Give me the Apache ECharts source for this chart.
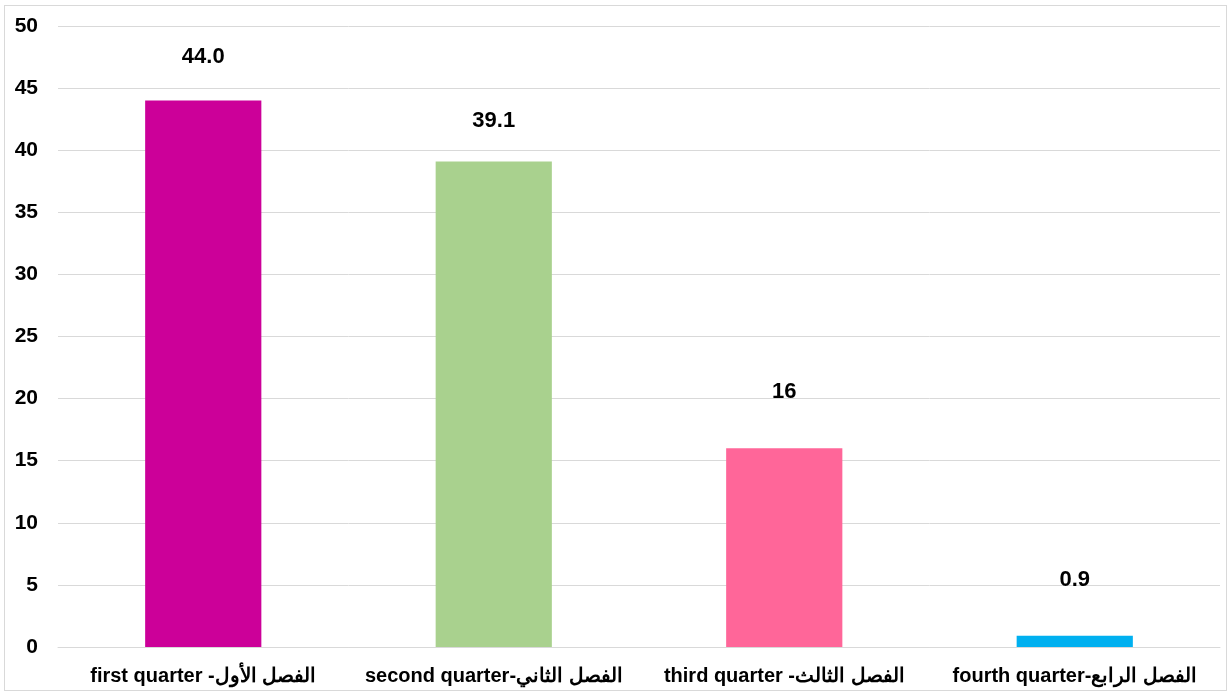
<!DOCTYPE html>
<html>
<head>
<meta charset="utf-8">
<script src="https://cdn.jsdelivr.net/npm/echarts@6/dist/echarts.min.js"></script>
<style>
  html, body { margin: 0; padding: 0; background: #fff; }
  #frame { position: absolute; left: 4px; top: 5px; width: 1223px; height: 686px; border: 1px solid #d9d9d9; box-sizing: border-box; }
  #chart { position: absolute; left: 0; top: 0; width: 1230px; height: 694px; }
</style>
</head>
<body>
<div id="frame"></div>
<div id="chart"></div>
<script>
const categories = [
  "first quarter -الفصل الأول",
  "second quarter-الفصل الثاني",
  "third quarter -الفصل الثالث",
  "fourth quarter-الفصل الرابع"
];
const values = [44.0, 39.1, 16, 0.9];
const valueLabels = ["44.0", "39.1", "16", "0.9"];
const yTicks = { min: 0, max: 50, interval: 5 };

const colors = ["#CC0099", "#A9D18E", "#FF6699", "#00B0F0"];
const labelDistances = [33, 29, 45, 45];

const chart = echarts.init(document.getElementById('chart'), null, { renderer: 'canvas' });
chart.setOption({
  animation: false,
  textStyle: { fontFamily: "Liberation Sans, Arial, sans-serif" },
  grid: { left: 58, right: 10, top: 26, bottom: 47, containLabel: false },
  xAxis: {
    type: 'category',
    data: categories,
    axisLine: { show: true, lineStyle: { color: '#d9d9d9', width: 1 } },
    axisTick: { show: false },
    axisLabel: { color: '#000', fontWeight: 'bold', fontSize: 20, margin: 19, interval: 0, fontFamily: "Liberation Sans, Arial, sans-serif" }
  },
  yAxis: {
    type: 'value',
    min: yTicks.min, max: yTicks.max, interval: yTicks.interval,
    axisLine: { show: false },
    axisTick: { show: false },
    splitLine: { lineStyle: { color: '#d9d9d9', width: 1 } },
    axisLabel: { color: '#000', fontWeight: 'bold', fontSize: 21, margin: 20, fontFamily: "Liberation Sans, Arial, sans-serif" }
  },
  series: [{
    type: 'bar',
    barWidth: '40%',
    data: values.map((v, i) => ({
      value: v,
      itemStyle: { color: colors[i] },
      label: { distance: labelDistances[i] }
    })),
    label: {
      show: true,
      position: 'top',
      color: '#000',
      fontWeight: 'bold',
      fontSize: 22,
      fontFamily: "Liberation Sans, Arial, sans-serif",
      formatter: p => valueLabels[p.dataIndex]
    }
  }]
});
</script>
</body>
</html>
